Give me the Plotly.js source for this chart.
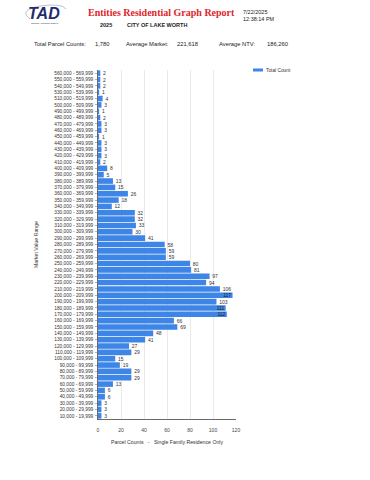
<!DOCTYPE html>
<html>
<head>
<meta charset="utf-8">
<script src="https://cdn.plot.ly/plotly-3.0.1.min.js"></script>
<style>html,body{margin:0;padding:0;background:#fff;}#chart{width:370px;height:480px;}</style>
</head>
<body>
<div id="chart"></div>
<script>
const categories = [
  "560,000 - 569,999","550,000 - 559,999","540,000 - 549,999","530,000 - 539,999",
  "510,000 - 519,999","500,000 - 509,999","490,000 - 499,999","480,000 - 489,999",
  "470,000 - 479,999","460,000 - 469,999","450,000 - 459,999","440,000 - 449,999",
  "430,000 - 439,999","420,000 - 429,999","410,000 - 419,999","400,000 - 409,999",
  "390,000 - 399,999","380,000 - 389,999","370,000 - 379,999","360,000 - 369,999",
  "350,000 - 359,999","340,000 - 349,999","330,000 - 339,999","320,000 - 329,999",
  "310,000 - 319,999","300,000 - 309,999","290,000 - 299,999","280,000 - 289,999",
  "270,000 - 279,999","260,000 - 269,999","250,000 - 259,999","240,000 - 249,999",
  "230,000 - 239,999","220,000 - 229,999","210,000 - 219,999","200,000 - 209,999",
  "190,000 - 199,999","180,000 - 189,999","170,000 - 179,999","160,000 - 169,999",
  "150,000 - 159,999","140,000 - 149,999","130,000 - 139,999","120,000 - 129,999",
  "110,000 - 119,999","100,000 - 109,999","90,000 - 99,999","80,000 - 89,999",
  "70,000 - 79,999","60,000 - 69,999","50,000 - 59,999","40,000 - 49,999",
  "30,000 - 39,999","20,000 - 29,999","10,000 - 19,999"
];
const totalCount = [
  2,2,2,1,
  4,3,1,2,
  3,3,1,3,
  3,3,2,8,
  5,13,15,26,
  18,12,32,32,
  33,30,41,58,
  59,59,80,81,
  97,94,106,117,
  103,111,112,66,
  69,48,41,27,
  29,15,19,29,
  29,13,6,6,
  3,3,3
];
const xTicks = [0,20,40,60,80,100,120];
const seriesName = "Total Count";
const reportTitle = "Entities Residential Graph Report";
const reportDate = "7/22/2025";
const reportTime = "12:38:14 PM";
const reportYear = "2025";
const entityName = "CITY OF LAKE WORTH";
const summaryLabels = ["Total Parcel Counts:", "Average Market:", "Average NTV:"];
const summaryValues = ["1,780", "221,618", "186,260"];

// plot area in pixels
const L = 98, R = 236, T = 70, B = 419;
const px = x => (x - L) / (R - L);
const py = y => (B - y) / (B - T);
const SANS = "Liberation Sans, Arial, sans-serif";
const BLUE = "#3d85e6";
const NB = "\u00a0";

const positions = totalCount.map(v => v >= 110 ? "inside" : "outside");
const labels = totalCount.map(v => v >= 110 ? String(v) + NB : NB + NB + String(v));

const trace = {
  type: "bar",
  orientation: "h",
  y: categories,
  x: totalCount,
  name: seriesName,
  marker: {color: BLUE, line: {width: 0}},
  text: labels,
  textposition: positions,
  insidetextanchor: "end",
  constraintext: "none",
  textfont: {family: SANS, size: 5, color: "#333"},
  insidetextfont: {family: SANS, size: 5, color: "#222"},
  outsidetextfont: {family: SANS, size: 5, color: "#333"},
  cliponaxis: false,
  showlegend: false,
  hoverinfo: "x+y"
};

const ann = [];
function t(text, x, y, size, opts) {
  ann.push(Object.assign({
    text: text, xref: "paper", yref: "paper", x: px(x), y: py(y),
    xanchor: "left", yanchor: "middle", showarrow: false,
    font: {family: SANS, size: size, color: "#222"}
  }, opts || {}));
}
// logo
t("<b><i>TAD</i></b>", 44, 13, 16, {xanchor: "center", font: {family: SANS, size: 16, color: "#232d6b"}});
t("Tarrant Appraisal District", 44, 23, 2.5, {xanchor: "center", font: {family: SANS, size: 2.5, color: "#232d6b"}});
// title
t("<b>" + reportTitle + "</b>", 161, 12, 10, {xanchor: "center", font: {family: "Liberation Serif, Times New Roman, serif", size: 10, color: "#e0252b"}});
t(reportDate, 241, 12, 5.5);
t(reportTime, 241, 19, 5.5);
t("<b>" + reportYear + "</b>", 98, 25, 5.5);
t("<b>" + entityName + "</b>", 125, 25, 5.5);
// summary
t(summaryLabels[0], 32, 44, 5.8);
t(summaryValues[0], 93, 44, 5.8);
t(summaryLabels[1], 124, 44, 5.8);
t(summaryValues[1], 175, 44, 5.8);
t(summaryLabels[2], 217, 44, 5.8);
t(summaryValues[2], 265, 44, 5.8);
// legend
t(seriesName, 264, 70, 4.8, {font: {family: SANS, size: 4.8, color: "#333"}});

const shapes = [
  {type: "rect", xref: "paper", yref: "paper", x0: px(253), x1: px(263), y0: py(68.5), y1: py(71.5),
   fillcolor: BLUE, line: {width: 0}},
  {type: "path", xref: "paper", yref: "paper",
   path: "M" + px(30) + "," + py(19) + " Q" + px(18) + "," + py(10) + " " + px(40) + "," + py(6) +
         " Q" + px(62) + "," + py(3) + " " + px(66) + "," + py(9),
   line: {color: "#9aa6c8", width: 0.7}, layer: "below"}
];

const layout = {
  width: 370, height: 480,
  margin: {l: L, r: 370 - R, t: T, b: 480 - B, pad: 0},
  paper_bgcolor: "#fff", plot_bgcolor: "#fff",
  font: {family: SANS, size: 5, color: "#333"},
  bargap: 0.12,
  showlegend: false,
  xaxis: {
    range: [0, 120], tickvals: xTicks, ticktext: xTicks.map(String),
    showgrid: true, gridcolor: "#dcdcdc", gridwidth: 0.6,
    zeroline: false, showline: true, linecolor: "#444", linewidth: 0.8,
    ticks: "", tickfont: {family: SANS, size: 5, color: "#444"},
    ticklabelstandoff: 6,
    title: {text: "Parcel Counts   -   Single Family Residence Only", font: {family: SANS, size: 5.2, color: "#333"}, standoff: 8},
    automargin: false, fixedrange: true
  },
  yaxis: {
    type: "category", autorange: "reversed",
    showgrid: false, zeroline: false, showline: true, linecolor: "#444", linewidth: 0.8,
    ticks: "outside", ticklen: 2, tickcolor: "#666", tickwidth: 0.5,
    tickfont: {family: SANS, size: 4.8, color: "#333"},
    ticklabelstandoff: 1,
    title: {text: "Market Value Range", font: {family: SANS, size: 5.2, color: "#333"}, standoff: 15},
    automargin: false, fixedrange: true
  },
  annotations: ann,
  shapes: shapes
};

Plotly.newPlot("chart", [trace], layout, {displayModeBar: false, staticPlot: true});
</script>
</body>
</html>
